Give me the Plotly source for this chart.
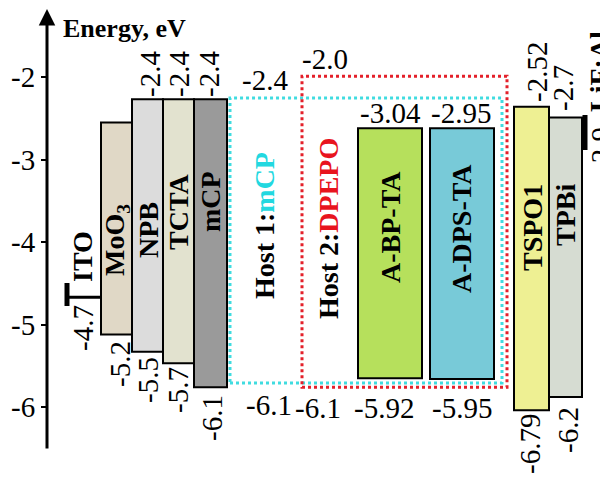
import plotly.graph_objects as go

# ---------------- data (energy levels as drawn, eV) ----------------
layers      = ["MoO<sub>3</sub>", "NPB", "TCTA", "mCP", "A-BP-TA", "A-DPS-TA", "TSPO1", "TPBi"]
lumo_drawn  = [-2.55, -2.27, -2.27, -2.27, -2.62, -2.62, -2.36, -2.49]
homo_drawn  = [-5.12, -5.33, -5.47, -5.76, -5.65, -5.66, -6.04, -5.88]
x_left      = [101, 132, 163, 194, 358, 430, 514, 549]
x_right     = [132, 163, 194, 227, 422, 494, 549, 582]
fills       = ["#e0d8c6", "#dcdcdc", "#e2e2cf", "#9a9a9a", "#b6e05c", "#78cad8", "#eef093", "#d6dcd2"]

hosts       = ["Host 1:<span style='color:#22d8e0'>mCP</span>", "Host 2:<span style='color:#e8141e'>DPEPO</span>"]
host_lumo   = [-2.255, -1.99]
host_homo   = [-5.71, -5.76]
host_x0     = [230, 302]
host_x1     = [502, 507]
host_colors = ["#40dce0", "#e4202a"]

ito_level   = -4.67
lif_level   = -2.46

yticks      = [-2, -3, -4, -5, -6]
ytick_text  = ["-2", "-3", "-4", "-5", "-6"]

# page offset of the figure inside the html body (default body margin)
OFF = 8

# window pixel row -> energy (layout helper for text placement)
def ey(py):
    return -2 - (py - 77) / 82.5

SERIF = "Liberation Serif"
NUM = 29
LBL = 28
fig = go.Figure()
fig.add_trace(go.Scatter(x=[300], y=[-3], mode="markers", marker=dict(opacity=0), hoverinfo="skip", showlegend=False))

shapes = []
for x0, x1, lo, hi, c in zip(host_x0, host_x1, host_homo, host_lumo, host_colors):
    shapes.append(dict(type="rect", xref="x", yref="y", x0=x0, x1=x1, y0=lo, y1=hi,
                       line=dict(color=c, width=3, dash="dot"), fillcolor="rgba(0,0,0,0)"))
for x0, x1, lo, hi, c in zip(x_left, x_right, homo_drawn, lumo_drawn, fills):
    shapes.append(dict(type="rect", xref="x", yref="y", x0=x0, x1=x1, y0=lo, y1=hi,
                       line=dict(color="black", width=2), fillcolor=c))
# ITO electrode
shapes.append(dict(type="line", xref="x", yref="y", x0=67, x1=x_left[0], y0=ito_level, y1=ito_level,
                   line=dict(color="black", width=3)))
shapes.append(dict(type="line", xref="x", yref="y", x0=67, x1=67, y0=ey(283), y1=ey(306),
                   line=dict(color="black", width=5)))
# LiF:Al electrode
shapes.append(dict(type="line", xref="x", yref="y", x0=585, x1=585, y0=ey(115), y1=ey(150),
                   line=dict(color="black", width=5)))

ann = []
def txt(x, py, s, size=NUM, bold=False, angle=0, color="black"):
    if bold:
        s = "<b>" + s + "</b>"
    ann.append(dict(x=x, y=ey(py), xref="x", yref="y", text=s, showarrow=False, textangle=angle,
                    xanchor="center", yanchor="middle",
                    font=dict(family=SERIF, size=size, color=color)))

# axis arrow
ann.append(dict(x=47, y=ey(9), ax=47, ay=ey(450), xref="x", yref="y", axref="x", ayref="y",
                text="", showarrow=True, arrowhead=2, arrowsize=1.1, arrowwidth=3, arrowcolor="black"))
txt(124, 28, "Energy, eV", size=26, bold=True)

# top labels
txt(150, 74, "-2.4", angle=-90)
txt(179, 74, "-2.4", angle=-90)
txt(209, 74, "-2.4", angle=-90)
txt(265, 80, "-2.4")
txt(325, 59, "-2.0")
txt(390, 113, "-3.04")
txt(461, 113, "-2.95")
txt(537, 72, "-2.52", angle=-90)
txt(563, 88, "-2.7", angle=-90)
txt(599, 72, "LiF:Al", size=LBL, bold=True, angle=-90)
txt(601, 150, "-2.9", angle=-90)

# bottom labels
txt(83, 328, "-4.7", angle=-90)
txt(82, 257, "ITO", size=LBL, bold=True, angle=-90)
txt(120, 364, "-5.2", angle=-90)
txt(148, 380, "-5.5", angle=-90)
txt(178, 390, "-5.7", angle=-90)
txt(212, 418, "-6.1", angle=-90)
txt(269, 405, "-6.1")
txt(318, 408, "-6.1")
txt(384, 408, "-5.92")
txt(462, 408, "-5.95")
txt(530, 444, "-6.79", angle=-90)
txt(568, 430, "-6.2", angle=-90)

# inside labels
inside_pos = [(116, 240), (148, 230), (178, 212), (210, 202), (390, 227), (461, 229), (532, 228), (565, 215)]
for name, (px, py) in zip(layers, inside_pos):
    txt(px, py, name, size=LBL, bold=True, angle=-90)
txt(264, 226, hosts[0], size=LBL, bold=True, angle=-90)
txt(328, 229, hosts[1], size=LBL, bold=True, angle=-90)

fig.update_layout(
    width=608, height=477, margin=dict(l=0, r=0, t=0, b=0, autoexpand=False),
    paper_bgcolor="white", plot_bgcolor="white",
    shapes=shapes, annotations=ann, showlegend=False,
    xaxis=dict(range=[OFF, 608 + OFF], visible=False, fixedrange=True),
    yaxis=dict(range=[ey(477 + OFF), ey(OFF)], anchor="free", position=(47 - OFF) / 608,
               showgrid=False, zeroline=False, showline=False, automargin=False,
               ticks="outside", ticklen=6, tickwidth=2, tickcolor="black",
               tickvals=yticks, ticktext=ytick_text,
               tickfont=dict(family=SERIF, size=NUM, color="black")),
)
fig.write_html("out.html")
